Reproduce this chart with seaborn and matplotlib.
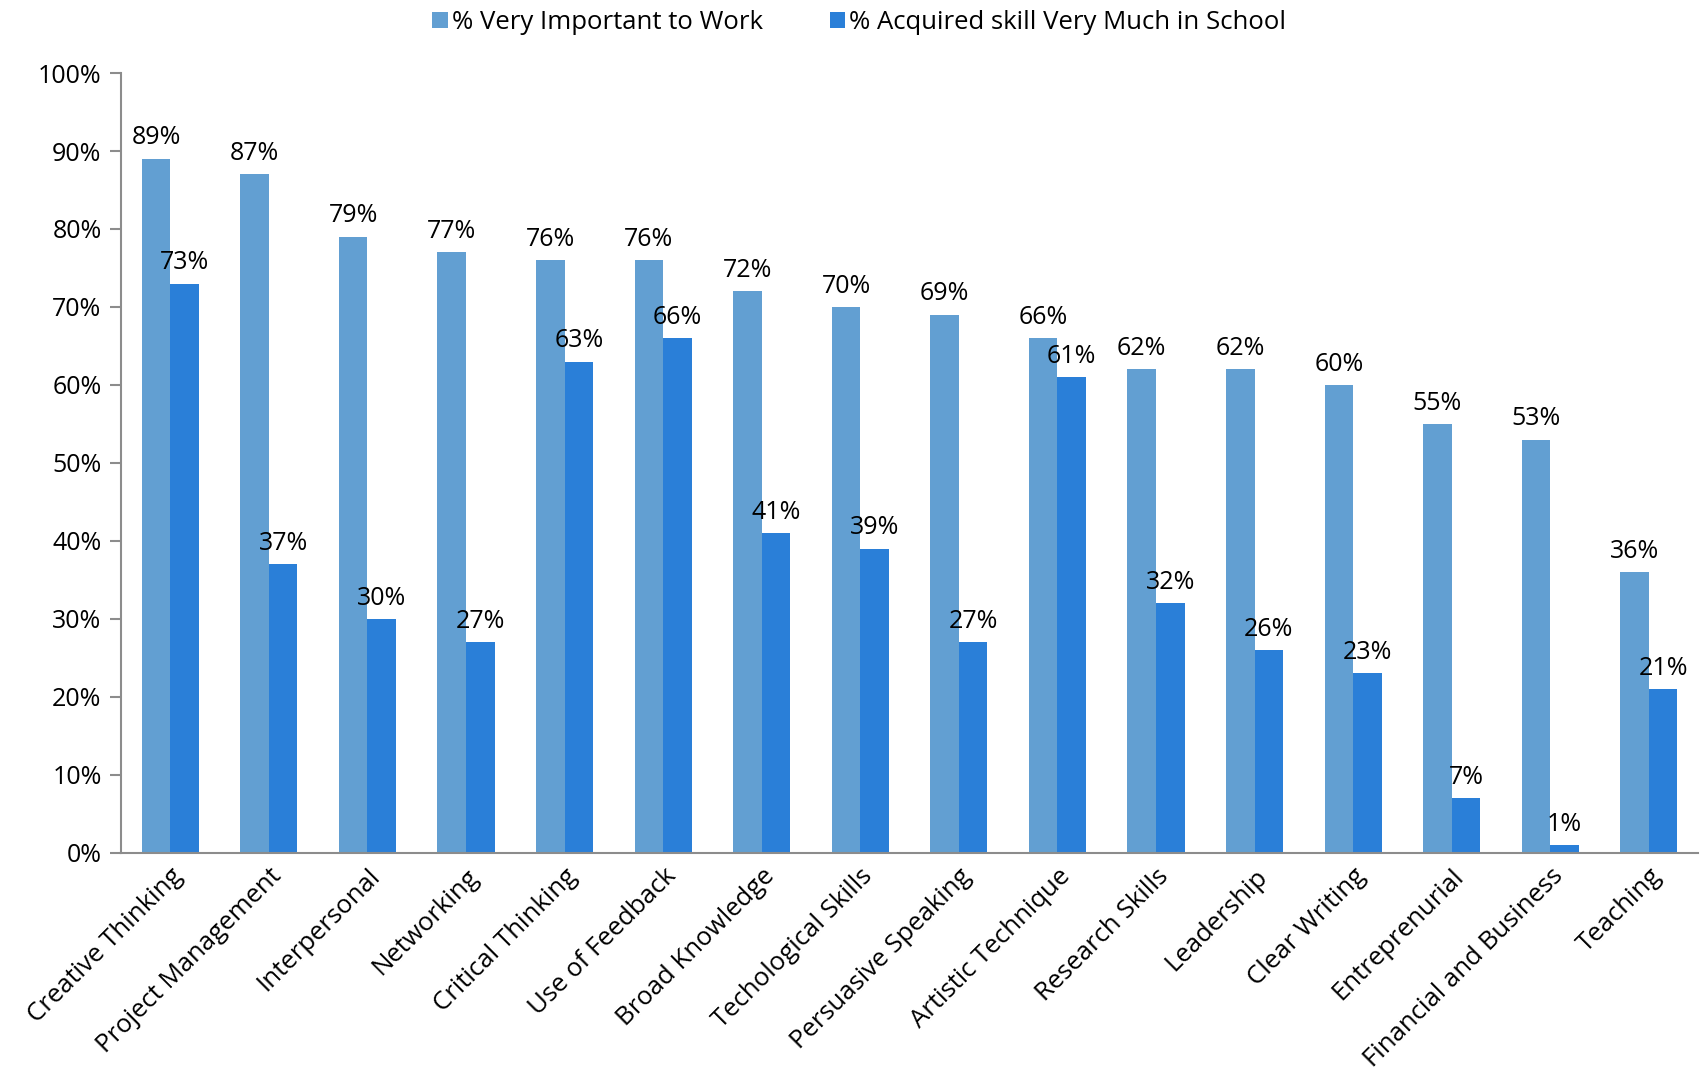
import matplotlib
matplotlib.use("Agg")
import matplotlib.pyplot as plt
import seaborn as sns
import pandas as pd
import numpy as np

categories = ["Creative Thinking", "Project Management", "Interpersonal", "Networking",
              "Critical Thinking", "Use of Feedback", "Broad Knowledge", "Techological Skills",
              "Persuasive Speaking", "Artistic Technique", "Research Skills", "Leadership",
              "Clear Writing", "Entreprenurial", "Financial and Business", "Teaching"]
important = [89, 87, 79, 77, 76, 76, 72, 70, 69, 66, 62, 62, 60, 55, 53, 36]
acquired = [73, 37, 30, 27, 63, 66, 41, 39, 27, 61, 32, 26, 23, 7, 1, 21]
series_names = ["% Very Important to Work", "% Acquired skill Very Much in School"]
yticks = [0, 10, 20, 30, 40, 50, 60, 70, 80, 90, 100]

sns.set_theme(style="white")
plt.rcParams['font.family'] = ['Open Sans', 'DejaVu Sans']
plt.rcParams['text.color'] = 'black'
plt.rcParams['xtick.labelcolor'] = 'black'
plt.rcParams['ytick.labelcolor'] = 'black'

df = pd.DataFrame({
    "Skill": categories * 2,
    "Value": important + acquired,
    "Series": [series_names[0]] * len(categories) + [series_names[1]] * len(categories),
})

fig = plt.figure(figsize=(17.05, 10.74), dpi=100)
ax = fig.add_axes([0.071, 0.206, 0.925, 0.726])
palette = {series_names[0]: "#629fd2", series_names[1]: "#2a7fd8"}
sns.barplot(data=df, x="Skill", y="Value", hue="Series", palette=palette,
            width=0.58, ax=ax, saturation=1, edgecolor="none", linewidth=0)

for cont in ax.containers:
    ax.bar_label(cont, labels=[f"{int(v)}%" for v in cont.datavalues],
                 padding=6, fontsize=18, color="black")

ax.set_ylim(0, 100)
ax.set_xlim(-0.5, len(categories) - 0.5)
ax.set_yticks(yticks)
ax.set_yticklabels([f"{v}%" for v in yticks], fontsize=18, color="black")
ax.set_xlabel("")
ax.set_ylabel("")

ax.set_xticks(range(len(categories)))
ax.set_xticklabels(categories, rotation=45, ha="right", rotation_mode="anchor",
                   fontsize=18.5, color="black")
ax.set_xticks(np.arange(-0.5, len(categories), 1.0), minor=True)
ax.tick_params(axis="x", which="major", length=0, pad=8)
ax.tick_params(axis="x", which="minor", length=8, width=1.5, color="#8c8c8c", direction="out")
ax.tick_params(axis="y", length=8, width=1.5, color="#8c8c8c", direction="out", left=True, pad=6)

for s in ["top", "right"]:
    ax.spines[s].set_visible(False)
for s in ["left", "bottom"]:
    ax.spines[s].set_color("#8c8c8c")
    ax.spines[s].set_linewidth(1.5)

leg = ax.legend(loc="upper center", bbox_to_anchor=(0.468, 1.11), ncol=2, frameon=False,
                fontsize=18.5, handlelength=0.6, handleheight=0.6, handletextpad=0.15,
                columnspacing=2.6)
for t in leg.get_texts():
    t.set_color("black")

fig.savefig("out.png", dpi=100)
